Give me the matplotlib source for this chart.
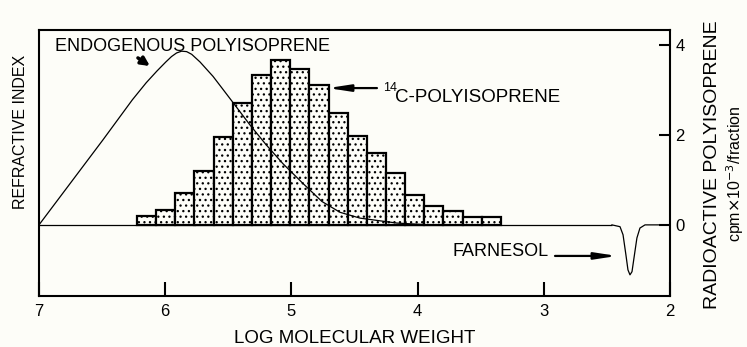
import numpy as np
import matplotlib
matplotlib.use("Agg")
import matplotlib.pyplot as plt

plt.rcParams['font.family'] = ['Liberation Sans', 'DejaVu Sans']
plt.rcParams['hatch.linewidth'] = 0.9
plt.rcParams['hatch.color'] = '#777777'

PAPER = '#fdfdf8'

# 14C counts per fraction (cpm x 10^-3), by log molecular weight of the fraction
fraction_logmw = [6.147, 5.995, 5.843, 5.692, 5.540, 5.388, 5.236, 5.085, 4.933,
                  4.781, 4.629, 4.478, 4.326, 4.174, 4.022, 3.871, 3.719, 3.567, 3.415]
fraction_cpm = [0.20, 0.33, 0.71, 1.20, 1.96, 2.71, 3.33, 3.67, 3.47,
                3.11, 2.49, 1.98, 1.60, 1.16, 0.67, 0.42, 0.31, 0.18, 0.18]
fraction_width = 0.1518

# refractive index trace: endogenous polyisoprene peak
peak_logmw = [7.000, 6.493, 6.260, 6.150, 6.065, 5.995, 5.950, 5.910, 5.870,
              5.830, 5.790, 5.724, 5.621, 5.550, 5.463, 5.328, 5.200, 5.067,
              4.908, 4.758, 4.615, 4.456, 4.163, 3.902]
peak_signal = [0.00, 1.89, 2.78, 3.16, 3.42, 3.62, 3.74, 3.82, 3.86,
               3.85, 3.79, 3.62, 3.30, 3.04, 2.72, 2.22, 1.78, 1.36,
               0.92, 0.52, 0.28, 0.15, 0.04, 0.00]
# farnesol dip near the end of the run
dip_logmw = [2.460, 2.396, 2.372, 2.349, 2.333, 2.317, 2.301, 2.285,
             2.262, 2.238, 2.198, 2.000]
dip_signal = [0.00, -0.04, -0.22, -0.67, -1.00, -1.11, -1.04, -0.73,
              -0.29, -0.07, 0.00, 0.00]

x_ticks = [7, 6, 5, 4, 3, 2]
y_ticks = [0, 2, 4]

fig = plt.figure(figsize=(7.47, 3.47), dpi=100, facecolor=PAPER)
ax = fig.add_axes([0.0522, 0.147, 0.8447, 0.7665], facecolor=PAPER)

ax.bar(fraction_logmw, fraction_cpm, width=fraction_width, facecolor=PAPER,
       edgecolor='black', linewidth=1.6, hatch='...', zorder=2)

# detector baseline runs from injection up to the farnesol dip
ax.hlines(0, peak_logmw[0], dip_logmw[0], color='black', linewidth=0.9, zorder=3)
ax.plot(peak_logmw, peak_signal, color='black', linewidth=0.9, zorder=3)
ax.plot(dip_logmw, dip_signal, color='black', linewidth=0.9, zorder=3)

ax.set_xlim(7, 2)
ax.set_ylim(-1.58, 4.33)
ax.set_xticks(x_ticks)
ax.set_xticklabels([str(t) for t in x_ticks])
ax.set_yticks(y_ticks)
ax.yaxis.tick_right()
ax.tick_params(axis='x', direction='in', length=10, width=1.5, labelsize=12, pad=6)
ax.tick_params(axis='y', direction='in', length=8, width=1.5, labelsize=12, pad=4)
for side in ax.spines.values():
    side.set_linewidth(1.5)

ax.set_xlabel('LOG MOLECULAR WEIGHT', fontsize=13.5, labelpad=8)

fig.text(0.027, 0.62, 'REFRACTIVE INDEX', rotation=90, fontsize=11.5,
         ha='center', va='center')
fig.text(0.954, 0.525, 'RADIOACTIVE POLYISOPRENE', rotation=90, fontsize=14,
         ha='center', va='center')
fig.text(0.984, 0.50, r'cpm$\times$10$^{-3}$/fraction', rotation=90, fontsize=11.5,
         ha='center', va='center')

# annotations
ax.text(6.873, 3.96, 'ENDOGENOUS POLYISOPRENE', fontsize=13, ha='left', va='center')
ax.annotate('', xy=(6.121, 3.53), xytext=(6.216, 3.71),
            arrowprops=dict(arrowstyle='-|>,head_width=0.25,head_length=0.5',
                            color='black', lw=2.5, shrinkA=0, shrinkB=0))

ax.text(4.274, 3.04, '14', fontsize=9, ha='left', va='center')
ax.text(4.179, 2.82, 'C-POLYISOPRENE', fontsize=13.5, ha='left', va='center')
ax.annotate('', xy=(4.710, 3.04), xytext=(4.322, 3.04),
            arrowprops=dict(arrowstyle='-|>,head_width=0.2,head_length=1.3',
                            color='black', lw=1.6, shrinkA=0, shrinkB=0))

ax.text(3.720, -0.60, 'FARNESOL', fontsize=13, ha='left', va='center')
ax.annotate('', xy=(2.420, -0.69), xytext=(2.911, -0.69),
            arrowprops=dict(arrowstyle='-|>,head_width=0.2,head_length=1.3',
                            color='black', lw=1.6, shrinkA=0, shrinkB=0))

fig.savefig('out.png', dpi=100, facecolor=PAPER)
